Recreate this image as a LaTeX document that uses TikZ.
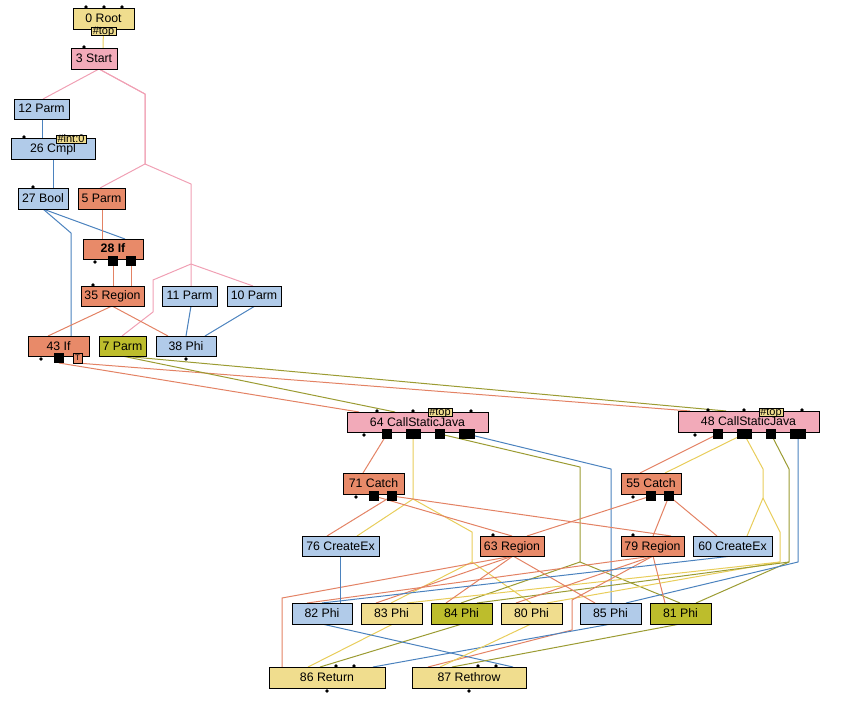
\documentclass[tikz,border=0pt]{standalone}
\usepackage{fontspec}
\setmainfont{Liberation Sans}
\definecolor{ndyellow}{HTML}{F0DD8E}
\definecolor{ndpink}{HTML}{F2AAB9}
\definecolor{ndorange}{HTML}{E88A69}
\definecolor{ndblue}{HTML}{B1CBE9}
\definecolor{ndolive}{HTML}{BDBD2C}
\definecolor{edorange}{HTML}{E38264}
\definecolor{edblue}{HTML}{4B82BE}
\definecolor{edyellow}{HTML}{E8CD5A}
\definecolor{edolive}{HTML}{9B9B32}
\definecolor{edpink}{HTML}{F0A0B4}
\pgfdeclarelayer{edges}
\pgfsetlayers{edges,main}
\tikzset{
  nb/.style={draw=black, line width=0.9pt, inner sep=0pt, outer sep=0pt,
    font=\fontsize{12.3}{14}\selectfont, text height=9pt, text depth=1pt},
  cy/.style={nb, fill=ndyellow}, cp/.style={nb, fill=ndpink},
  co/.style={nb, fill=ndorange}, cb/.style={nb, fill=ndblue},
  cl/.style={nb, fill=ndolive},
  edge/.style={line width=1pt, line join=round},
  ep/.style={edge, draw=edpink}, ey/.style={edge, draw=edyellow},
  eo/.style={edge, draw=edorange}, eb/.style={edge, draw=edblue},
  el/.style={edge, draw=edolive},
  tag/.style={draw=black, line width=0.6pt, fill=ndyellow, inner sep=0pt, outer sep=0pt,
    minimum height=8pt},
}
\newcommand\nbox[7]{\node[#6, minimum width={(#4-#2)*1pt}, minimum height={(#5-#3)*1pt}] (#1) at ({(#2+#4)/2},{(#3+#5)/2}) {#7};}
\newcommand\mysq[3]{\fill ([xshift=#2pt,yshift=3pt]#1.south west) rectangle ([xshift=#3pt,yshift=-7pt]#1.south west);}
\newcommand\mydotb[2]{\fill ([xshift=#2pt,yshift=-3pt]#1.south west) circle (1.8pt);}
\newcommand\mydott[2]{\fill ([xshift=#2pt,yshift=1pt]#1.north west) circle (1.8pt);}
\newcommand\mytag[5]{\node[tag, minimum width=#3pt,
   path picture={\node[anchor=base, inner sep=0pt, font=\fontsize{11}{11}\selectfont] (#1t) at ([yshift=0.4pt]path picture bounding box.south) {#4};}] (#1) at (#2) {};}
\begin{document}
\begin{tikzpicture}[x=1pt,y=-1pt]
\useasboundingbox (0,0) rectangle (861,708);
% ---------- nodes ----------
\nbox{root}{73}{8}{134}{29}{cy}{0 Root}
\nbox{start}{71}{48}{117}{69}{cp}{3 Start}
\nbox{p12}{14}{99}{69}{119}{cb}{12 Parm}
\nbox{cmpl26}{11}{138}{95}{159}{cb}{26 Cmpl}
\nbox{bool27}{18}{188}{68}{209}{cb}{27 Bool}
\nbox{p5}{78}{188}{125}{209}{co}{5 Parm}
\nbox{if28}{83}{239}{143}{259}{co}{\bfseries 28 If}
\nbox{reg35}{81}{286}{144}{306}{co}{35 Region}
\nbox{p11}{162}{286}{217}{306}{cb}{11 Parm}
\nbox{p10}{227}{286}{281}{306}{cb}{10 Parm}
\nbox{if43}{28}{336}{89}{356}{co}{43 If}
\nbox{p7}{99}{336}{146}{356}{cl}{7 Parm}
\nbox{phi38}{156}{336}{216}{356}{cb}{38 Phi}
\nbox{csj64}{347}{412}{488}{432}{cp}{64 CallStaticJava}
\nbox{csj48}{678}{411}{819}{432}{cp}{48 CallStaticJava}
\nbox{catch71}{343}{473}{404}{494}{co}{71 Catch}
\nbox{catch55}{621}{473}{681}{494}{co}{55 Catch}
\nbox{cex76}{302}{536}{379}{556}{cb}{76 CreateEx}
\nbox{reg63}{480}{536}{544}{556}{co}{63 Region}
\nbox{reg79}{621}{536}{684}{556}{co}{79 Region}
\nbox{cex60}{693}{536}{772}{556}{cb}{60 CreateEx}
\nbox{phi82}{292}{603}{352}{624}{cb}{82 Phi}
\nbox{phi83}{361}{603}{422}{624}{cy}{83 Phi}
\nbox{phi84}{431}{603}{492}{624}{cl}{84 Phi}
\nbox{phi80}{501}{603}{562}{624}{cy}{80 Phi}
\nbox{phi85}{580}{603}{641}{624}{cb}{85 Phi}
\nbox{phi81}{650}{603}{711}{624}{cl}{81 Phi}
\nbox{ret86}{269}{667}{385}{688}{cy}{86 Return}
\nbox{rethrow87}{412}{667}{526}{688}{cy}{87 Rethrow}
% ---------- edges ----------
\begin{pgfonlayer}{edges}
\draw[ey] (root.south) -- ([xshift=32pt]start.north west);
\draw[ep] ([xshift=28pt]start.south west) -- ([xshift=29pt]p12.north west);
\draw[ep] ([xshift=28pt]start.south west) -- (145,94) -- (145,164) -- ([xshift=22pt]p5.north west);
\draw[ep] ([xshift=28pt]start.south west) -- (145,94) -- (145,164) -- (191,184) -- (191,264) -- ([xshift=29pt]p11.north west);
\draw[ep] (191,264) -- ([xshift=26pt]p10.north west);
\draw[ep] (191,264) -- (153,280) -- (153,312) -- ([xshift=23pt]p7.north west);
\draw[eb] ([xshift=28pt]p12.south west) -- ([xshift=31pt]cmpl26.north west);
\draw[eb] ([xshift=42pt]cmpl26.south west) -- ([xshift=35pt]bool27.north west);
\draw[eb] ([xshift=25pt]bool27.south west) -- ([xshift=42pt]if28.north west);
\draw[eb] ([xshift=25pt]bool27.south west) -- (71,233) -- ([xshift=43pt]if43.north west);
\draw[eb] ([xshift=29pt]p11.south west) -- ([xshift=30pt]phi38.north west);
\draw[eb] ([xshift=28pt]p10.south west) -- ([xshift=49pt]phi38.north west);
\draw[eo] ([xshift=24pt]p5.south west) -- ([xshift=19pt]if28.north west);
\draw[eo] ([xshift=30pt,yshift=-2pt]if28.south west) -- ([xshift=32pt]reg35.north west);
\draw[eo] ([xshift=48pt,yshift=-2pt]if28.south west) -- ([xshift=50pt]reg35.north west);
\draw[eo] ([xshift=31pt]reg35.south west) -- ([xshift=20pt]if43.north west);
\draw[eo] ([xshift=31pt]reg35.south west) -- ([xshift=12pt]phi38.north west);
\draw[eo] ([xshift=31pt,yshift=-7pt]if43.south west) -- ([xshift=12pt]csj64.north west);
\draw[eo] ([xshift=49pt,yshift=-7pt]if43.south west) -- ([xshift=12pt]csj48.north west);
\draw[el] ([xshift=23pt]p7.south west) -- ([xshift=48pt]csj64.north west);
\draw[el] ([xshift=23pt]p7.south west) -- ([xshift=48pt]csj48.north west);
% 64 outputs
\draw[eo] ([xshift=40pt,yshift=-2pt]csj64.south west) -- ([xshift=20pt]catch71.north west);
\draw[ey] ([xshift=66pt,yshift=-2pt]csj64.south west) -- (413,499) -- ([xshift=55pt]cex76.north west);
\draw[ey] (413,499) -- (472,532) -- (472,562) -- ([xshift=30pt]phi83.north west);
\draw[ey] (472,562) -- ([xshift=30pt]phi80.north west);
\draw[el] ([xshift=93pt,yshift=-2pt]csj64.south west) -- (580,467) -- (580,562) -- ([xshift=30pt]phi84.north west);
\draw[el] (580,562) -- ([xshift=30pt]phi81.north west);
\draw[eb] ([xshift=120pt,yshift=-2pt]csj64.south west) -- (611,469) -- ([xshift=31pt]phi85.north west);
% 48 outputs
\draw[eo] ([xshift=40pt,yshift=-2pt]csj48.south west) -- ([xshift=19pt]catch55.north west);
\draw[ey] ([xshift=66pt,yshift=-2pt]csj48.south west) -- ([xshift=44pt]catch55.north west);
\draw[ey] ([xshift=66pt,yshift=-2pt]csj48.south west) -- (763,469) -- (763,498) -- ([xshift=54pt]cex60.north west);
\draw[ey] (763,498) -- (780,532) -- (780,562) -- ([xshift=46pt]phi83.north west);
\draw[ey] (780,562) -- ([xshift=46pt]phi80.north west);
\draw[el] ([xshift=93pt,yshift=-2pt]csj48.south west) -- (789,469) -- (789,562) -- ([xshift=46pt]phi84.north west);
\draw[el] (789,562) -- ([xshift=46pt]phi81.north west);
\draw[eb] ([xshift=120pt,yshift=-2pt]csj48.south west) -- (798,562) -- ([xshift=46pt]phi85.north west);
% catch outputs
\draw[eo] ([xshift=31pt,yshift=-2pt]catch71.south west) -- ([xshift=32pt]reg63.north west);
\draw[eo] ([xshift=49pt,yshift=-2pt]catch71.south west) -- ([xshift=25pt]cex76.north west);
\draw[eo] ([xshift=49pt,yshift=-2pt]catch71.south west) -- ([xshift=50pt]reg79.north west);
\draw[eo] ([xshift=30pt,yshift=-2pt]catch55.south west) -- ([xshift=47pt]reg63.north west);
\draw[eo] ([xshift=48pt,yshift=-2pt]catch55.south west) -- ([xshift=32pt]reg79.north west);
\draw[eo] ([xshift=48pt,yshift=-2pt]catch55.south west) -- ([xshift=24pt]cex60.north west);
% region outputs
\draw[eo] ([xshift=33pt]reg63.south west) -- (282,598) -- ([xshift=13pt]ret86.north west);
\draw[eo] ([xshift=33pt]reg63.south west) -- ([xshift=15pt]phi83.north west);
\draw[eo] ([xshift=33pt]reg63.south west) -- ([xshift=15pt]phi84.north west);
\draw[eo] ([xshift=33pt]reg63.south west) -- ([xshift=15pt]phi85.north west);
\draw[eo] ([xshift=32pt]reg79.south west) -- (572,600) -- (572,630) -- ([xshift=16pt]rethrow87.north west);
\draw[eo] ([xshift=32pt]reg79.south west) -- ([xshift=15pt]phi82.north west);
\draw[eo] ([xshift=32pt]reg79.south west) -- ([xshift=15pt]phi80.north west);
\draw[eo] ([xshift=32pt]reg79.south west) -- ([xshift=15pt]phi81.north west);
% createex
\draw[eb] ([xshift=38pt]cex76.south west) -- ([xshift=48pt]phi82.north west);
\draw[eb] ([xshift=39pt]cex60.south west) -- ([xshift=30pt]phi82.north west);
% phis to return / rethrow
\draw[ey] ([xshift=32pt]phi83.south west) -- ([xshift=39pt]ret86.north west);
\draw[el] ([xshift=31pt]phi84.south west) -- ([xshift=51pt]ret86.north west);
\draw[eb] ([xshift=31pt]phi85.south west) -- ([xshift=104pt]ret86.north west);
\draw[eb] ([xshift=30pt]phi82.south west) -- ([xshift=101pt]rethrow87.north west);
\draw[ey] ([xshift=30pt]phi80.south west) -- ([xshift=28pt]rethrow87.north west);
\draw[el] ([xshift=30pt]phi81.south west) -- ([xshift=40pt]rethrow87.north west);
\end{pgfonlayer}
% ---------- tags ----------
\mytag{roottag}{103.5,31}{25}{\#top}{}
\mytag{cmpltag}{71,139}{30}{\#int:0}{}
\mytag{csj64tag}{440,412}{24}{\#top}{}
\mytag{csj48tag}{771,412}{24}{\#top}{}
% ---------- ports ----------
\mydott{root}{13}\mydott{root}{31}\mydott{root}{49}
\mydott{start}{13}
\mydott{cmpl26}{13}
\mydott{bool27}{15}
\mydotb{if28}{12}\mysq{if28}{25}{35}\mysq{if28}{43}{53}
\mydott{reg35}{12}
\mydotb{if43}{13}\mysq{if43}{26}{36}
\node[draw=black, line width=0.6pt, fill=ndorange, inner sep=0pt, outer sep=0pt,
  minimum width=9pt, minimum height=10pt, font=\fontsize{8}{8}\selectfont] (if43t) at (77.5,358) {T};
\mydotb{phi38}{30}
\mydott{csj64}{30}\mydott{csj64}{66}\mydott{csj64}{124}
\mydotb{csj64}{17}\mysq{csj64}{35}{45}\mysq{csj64}{59}{74}\mysq{csj64}{88}{98}\mysq{csj64}{112}{128}
\mydott{csj48}{30}\mydott{csj48}{66}\mydott{csj48}{124}
\mydotb{csj48}{17}\mysq{csj48}{35}{45}\mysq{csj48}{59}{74}\mysq{csj48}{88}{98}\mysq{csj48}{112}{128}
\mydotb{catch71}{13}\mysq{catch71}{26}{36}\mysq{catch71}{44}{54}
\mydotb{catch55}{12}\mysq{catch55}{25}{35}\mysq{catch55}{43}{53}
\mydott{reg63}{13}
\mydott{reg79}{12}
\mydott{ret86}{67}\mydott{ret86}{85}\mydotb{ret86}{58}
\mydott{rethrow87}{66}\mydott{rethrow87}{84}\mydotb{rethrow87}{57}
\end{tikzpicture}
\end{document}
